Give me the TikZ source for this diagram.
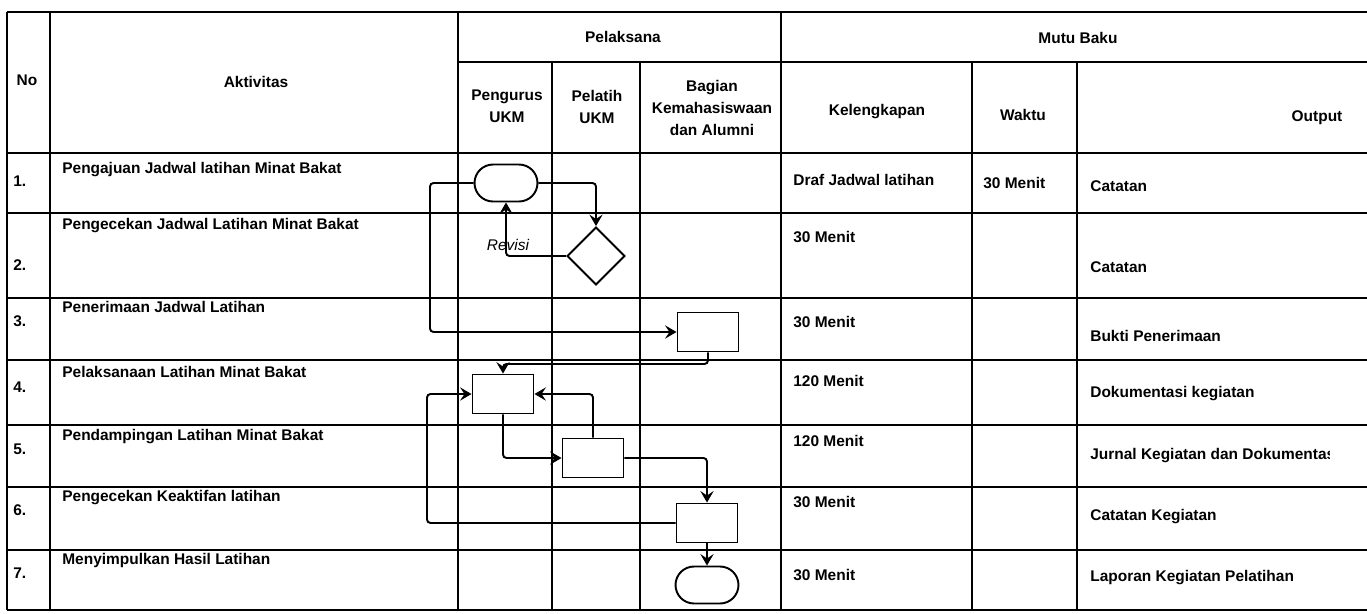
\documentclass[tikz,border=0pt]{standalone}
\usepackage{fontspec}
\setmainfont{Liberation Sans}
\usetikzlibrary{arrows.meta,shapes.geometric,shapes.misc}

\begin{document}
\begin{tikzpicture}[x=0.02cm, y=-0.02cm,
  every node/.style={font=\fontsize{8.8}{12.4}\selectfont\bfseries, inner sep=0pt},
  grid/.style={line width=1.6pt},
  flow/.style={line width=1.1pt, rounded corners=2pt},
  arr/.style={flow, -{Stealth[length=6.5pt, width=7.5pt, inset=2.5pt]}},
  proc/.style={draw, line width=1.1pt, minimum width=1.22cm, minimum height=0.78cm},
  term/.style={draw, rounded rectangle, line width=1.1pt, minimum width=1.26cm, minimum height=0.74cm},
  dec/.style={draw, diamond, line width=1.1pt, minimum width=1.16cm, minimum height=1.16cm},
  cell/.style={anchor=west},
  head/.style={align=center}]
  \useasboundingbox (0,0) rectangle (1367,613);
  \clip (0,0) rectangle (1367,613);
  % table lines
  \draw[grid] (7,12) -- (1367,12);
  \draw[grid] (458,62) -- (1367,62);
  \foreach \y in {153,213,298,360,425,487,550,610}
    \draw[grid] (7,\y) -- (1367,\y);
  \foreach \x in {7,50,458,781}
    \draw[grid] (\x,12) -- (\x,610);
  \foreach \x in {552,640,972,1077}
    \draw[grid] (\x,62) -- (\x,610);
  % header
  \node[head] (hNo) at (27,80) {No};
  \node[head] (hAkt) at (256,82) {Aktivitas};
  \node[head] (hPel) at (623,37) {Pelaksana};
  \node[head] (hPeng) at (507,106) {Pengurus\\UKM};
  \node[head] (hLatih) at (597,107) {Pelatih\\UKM};
  \node[head] (hBag) at (712,108) {Bagian\\Kemahasiswaan\\dan Alumni};
  \node[head] (hMutu) at (1078,38) {Mutu Baku};
  \node[head] (hKel) at (877,112) {Kelengkapan};
  \node[head] (hWkt) at (1023,115) {Waktu};
  \node[head] (hOut) at (1317,118) {Output};
  % rows
  \node[cell] (n1) at (13,181) {1.};
  \node[cell] (a1) at (62,170) {Pengajuan Jadwal latihan Minat Bakat};
  \node[cell] (k1) at (793,180) {Draf Jadwal latihan};
  \node[cell] (w1) at (983,183) {30 Menit};
  \node[cell] (o1) at (1090,186) {Catatan};
  \node[cell] (n2) at (13,265) {2.};
  \node[cell] (a2) at (62,226) {Pengecekan Jadwal Latihan Minat Bakat};
  \node[cell] (k2) at (793,237) {30 Menit};
  \node[cell] (o2) at (1090,267) {Catatan};
  \node[cell] (n3) at (13,321) {3.};
  \node[cell] (a3) at (62,307) {Penerimaan Jadwal Latihan};
  \node[cell] (k3) at (793,322) {30 Menit};
  \node[cell] (o3) at (1090,336) {Bukti Penerimaan};
  \node[cell] (n4) at (13,387) {4.};
  \node[cell] (a4) at (62,372) {Pelaksanaan Latihan Minat Bakat};
  \node[cell] (k4) at (793,381) {120 Menit};
  \node[cell] (o4) at (1090,394) {Dokumentasi kegiatan};
  \node[cell] (n5) at (13,449) {5.};
  \node[cell] (a5) at (62,437) {Pendampingan Latihan Minat Bakat};
  \node[cell] (k5) at (793,441) {120 Menit};
  \begin{scope}
    % text runs off the sheet
    \clip (1080,430) rectangle (1329,480);
    \node[cell] (o5) at (1090,456) {Jurnal Kegiatan dan Dokumentasi};
  \end{scope}
  \node[cell] (n6) at (13,510) {6.};
  \node[cell] (a6) at (62,498) {Pengecekan Keaktifan latihan};
  \node[cell] (k6) at (793,502) {30 Menit};
  \node[cell] (o6) at (1090,517) {Catatan Kegiatan};
  \node[cell] (n7) at (13,573) {7.};
  \node[cell] (a7) at (62,560) {Menyimpulkan Hasil Latihan};
  \node[cell] (k7) at (793,575) {30 Menit};
  \node[cell] (o7) at (1090,578) {Laporan Kegiatan Pelatihan};
  % flow
  \node[term] (mulai) at (506,183) {};
  \node[dec] (cek) at (596,256) {};
  \node[proc] (terima) at (708,332) {};
  \node[proc] (laks) at (503,394) {};
  \node[proc] (damping) at (593,458) {};
  \node[proc] (aktif) at (707,523) {};
  \node[term] (selesai) at (707,585) {};
  \coordinate (kiri1) at (430,183);
  \coordinate (kiri2) at (427,523);
  \coordinate (turun) at (503,364);
  \draw[arr] (mulai.west) -- (kiri1) |- (terima.west);
  \draw[arr] (mulai.east) -| (cek.north);
  \draw[arr] (cek.west) -| (mulai.south);
  \node[font=\fontsize{8.8}{10}\selectfont\mdseries\itshape] (revisi) at (508,245) {Revisi};
  \draw[arr] (terima.south) |- (turun) -- (laks.north);
  \draw[arr] (laks.south) |- (damping.west);
  \draw[arr] (damping.north) |- (laks.east);
  \draw[arr] (damping.east) -| (aktif.north);
  \draw[arr] (aktif.west) -- (kiri2) |- (laks.west);
  \draw[arr] (aktif.south) -- (selesai.north);
\end{tikzpicture}
\end{document}
